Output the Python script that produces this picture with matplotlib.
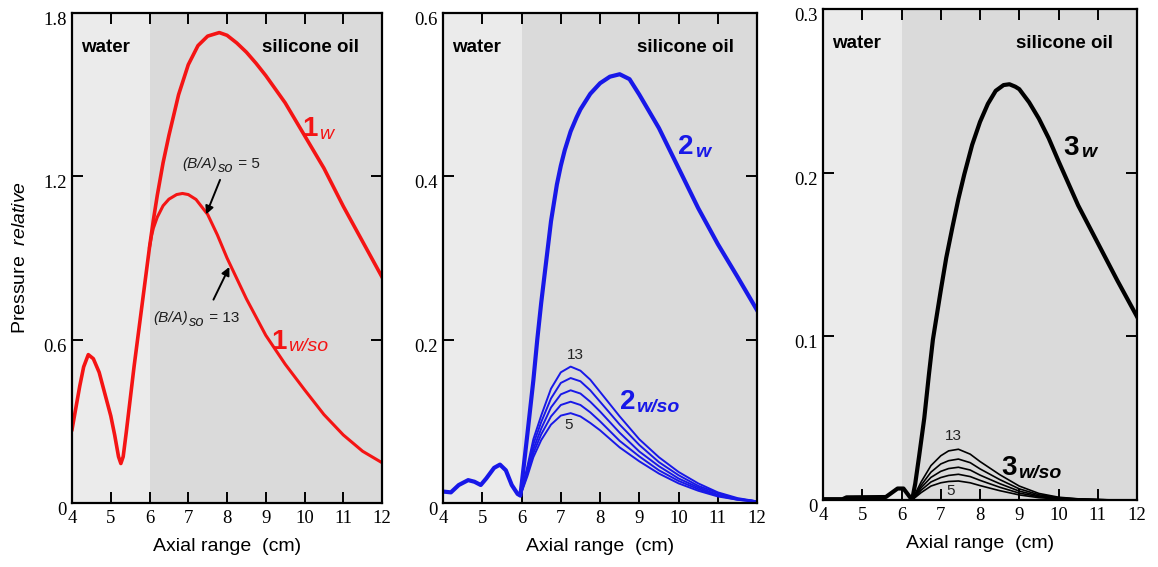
import matplotlib.pyplot as plt
from matplotlib import transforms

plt.rcParams['font.family'] = ['Liberation Sans', 'DejaVu Sans']
plt.rcParams['mathtext.fontset'] = 'custom'
plt.rcParams['mathtext.rm'] = 'Liberation Sans'
plt.rcParams['mathtext.it'] = 'Liberation Sans:italic'

# panel 1 : fundamental (red)
w1_water_x = [4.0, 4.1, 4.2, 4.3, 4.42, 4.55, 4.7, 4.85, 5.0, 5.1, 5.2, 5.26,
              5.32, 5.4, 5.5, 5.6, 5.7, 5.8, 5.9, 6.0]
w1_water_y = [0.27, 0.35, 0.43, 0.5, 0.545, 0.53, 0.48, 0.4, 0.32, 0.25, 0.17,
              0.145, 0.17, 0.26, 0.38, 0.5, 0.61, 0.72, 0.83, 0.94]
w1_oil_x = [6.1, 6.2, 6.35, 6.5, 6.75, 7.0, 7.25, 7.5, 7.8, 8.0, 8.25, 8.5,
            8.75, 9.0, 9.5, 10.0, 10.5, 11.0, 11.5, 12.0]
w1_oil_y = [1.04, 1.13, 1.25, 1.35, 1.5, 1.61, 1.68, 1.715, 1.728, 1.718, 1.69,
            1.656, 1.615, 1.57, 1.47, 1.35, 1.23, 1.09, 0.96, 0.83]
wso1_x = [6.0, 6.05, 6.1, 6.2, 6.35, 6.5, 6.7, 6.85, 7.0, 7.2, 7.5, 7.75, 8.0,
          8.5, 9.0, 9.5, 10.0, 10.5, 11.0, 11.5, 12.0]
wso1_y = [0.94, 0.98, 1.01, 1.05, 1.092, 1.116, 1.133, 1.137, 1.133, 1.115,
          1.06, 0.985, 0.9, 0.75, 0.616, 0.51, 0.416, 0.325, 0.25, 0.19, 0.148]

# panel 2 : second harmonic (blue)
w2_x = [4.0, 4.2, 4.4, 4.64, 4.8, 4.96, 5.1, 5.3, 5.45, 5.6, 5.75, 5.9, 5.97,
        6.15, 6.3, 6.4, 6.5, 6.75, 6.9, 7.0, 7.1, 7.25, 7.4, 7.5, 7.75, 8.0,
        8.25, 8.5, 8.75, 9.0, 9.5, 10.0, 10.5, 11.0, 11.5, 12.0]
w2_y = [0.014, 0.013, 0.022, 0.028, 0.026, 0.022, 0.03, 0.043, 0.047, 0.04,
        0.022, 0.011, 0.009, 0.085, 0.15, 0.2, 0.245, 0.345, 0.39, 0.413,
        0.432, 0.455, 0.472, 0.482, 0.501, 0.514, 0.522, 0.525, 0.519, 0.5,
        0.459, 0.41, 0.361, 0.317, 0.277, 0.236]
wso2_x = [5.97, 6.15, 6.3, 6.5, 6.75, 7.0, 7.25, 7.5, 7.75, 8.0, 8.5, 9.0, 9.5,
          10.0, 10.5, 11.0, 11.5, 12.0]
wso2_y = {
    13: [0.009, 0.045, 0.078, 0.107, 0.140, 0.160, 0.167, 0.162, 0.151, 0.136,
         0.106, 0.078, 0.056, 0.038, 0.024, 0.013, 0.006, 0.002],
    11: [0.009, 0.042, 0.072, 0.099, 0.128, 0.147, 0.153, 0.149, 0.138, 0.124,
         0.096, 0.071, 0.050, 0.034, 0.021, 0.012, 0.005, 0.002],
    9: [0.009, 0.039, 0.066, 0.091, 0.117, 0.133, 0.138, 0.134, 0.124, 0.112,
        0.086, 0.063, 0.045, 0.030, 0.019, 0.010, 0.005, 0.002],
    7: [0.009, 0.036, 0.061, 0.084, 0.106, 0.120, 0.124, 0.120, 0.111, 0.100,
        0.076, 0.057, 0.040, 0.027, 0.017, 0.009, 0.004, 0.002],
    5: [0.009, 0.033, 0.056, 0.077, 0.096, 0.107, 0.110, 0.106, 0.098, 0.089,
        0.068, 0.051, 0.036, 0.024, 0.015, 0.008, 0.004, 0.001],
}

# panel 3 : third harmonic (black)
w3_x = [4.0, 4.5, 4.6, 5.6, 5.9, 6.05, 6.27, 6.35, 6.45, 6.58, 6.7, 6.8, 7.0,
        7.14, 7.3, 7.45, 7.6, 7.8, 8.0, 8.2, 8.4, 8.6, 8.75, 8.9, 9.0, 9.25,
        9.5, 9.75, 10.0, 10.5, 11.0, 11.5, 12.0]
w3_y = [0.0005, 0.0005, 0.0016, 0.0018, 0.007, 0.007, 0.0, 0.01, 0.027, 0.05,
        0.077, 0.098, 0.128, 0.148, 0.167, 0.184, 0.199, 0.217, 0.231, 0.242,
        0.25, 0.2535, 0.254, 0.2525, 0.251, 0.243, 0.233, 0.221, 0.207, 0.18,
        0.157, 0.134, 0.112]
wso3_x = [6.27, 6.5, 6.75, 7.0, 7.2, 7.45, 7.75, 8.0, 8.5, 9.0, 9.5, 10.0,
          10.5, 11.0, 11.4]
wso3_y = {
    13: [0, 0.011, 0.021, 0.027, 0.030, 0.031, 0.028, 0.0235, 0.0155, 0.0085,
         0.004, 0.0017, 0.0007, 0.0003, 0],
    11: [0, 0.009, 0.017, 0.022, 0.024, 0.025, 0.0228, 0.019, 0.0125, 0.0068,
         0.0032, 0.0014, 0.0006, 0.0002, 0],
    9: [0, 0.0075, 0.0138, 0.0175, 0.0192, 0.020, 0.0183, 0.0152, 0.010,
        0.0054, 0.0025, 0.0011, 0.0005, 0.0002, 0],
    7: [0, 0.006, 0.011, 0.0137, 0.015, 0.0157, 0.0143, 0.012, 0.0078, 0.0042,
        0.002, 0.0009, 0.0004, 0.0001, 0],
    5: [0, 0.0045, 0.0085, 0.0105, 0.0113, 0.0116, 0.0105, 0.0088, 0.0057,
        0.0031, 0.0014, 0.0006, 0.0003, 0.0001, 0],
}

x_ticks = [4, 5, 6, 7, 8, 9, 10, 11, 12]
y_ticks1, y_labels1 = [0, 0.6, 1.2, 1.8], ['0', '0.6', '1.2', '1.8']
y_ticks2, y_labels2 = [0, 0.2, 0.4, 0.6], ['0', '0.2', '0.4', '0.6']
y_ticks3, y_labels3 = [0, 0.1, 0.2, 0.3], ['0', '0.1', '0.2', '0.3']

RED = '#f41414'
BLUE = '#1818e8'
WATER = '#ebebeb'
OIL = '#dadada'

fig = plt.figure(figsize=(11.58, 5.67), dpi=100)
ax1 = fig.add_axes([0.0622, 0.1129, 0.2677, 0.8642])
ax2 = fig.add_axes([0.3826, 0.1129, 0.2712, 0.8642])
ax3 = fig.add_axes([0.7107, 0.1182, 0.2712, 0.866])


def setup(ax, yticks, ylabels):
    ax.axvspan(4, 6, color=WATER, lw=0, zorder=0)
    ax.axvspan(6, 12, color=OIL, lw=0, zorder=0)
    ax.set_xlim(4, 12)
    ax.set_ylim(yticks[0], yticks[-1])
    ax.set_xticks(x_ticks)
    ax.set_yticks(yticks)
    ax.set_yticklabels(ylabels)
    ax.tick_params(direction='in', top=True, right=True, length=8, width=1.4,
                   labelsize=13.5, labelfontfamily='Liberation Serif')
    ax.tick_params(axis='x', pad=5)
    ax.tick_params(axis='y', pad=4)
    # serif tick labels sit a little low in the original
    off = transforms.ScaledTranslation(0, -4 / 72, fig.dpi_scale_trans)
    for lab in ax.get_yticklabels():
        lab.set_transform(lab.get_transform() + off)
    for s in ax.spines.values():
        s.set_linewidth(1.6)
    ax.set_xlabel('Axial range  (cm)', fontsize=14, labelpad=8)
    ax.text(0.03, 0.93, 'water', transform=ax.transAxes, fontsize=13.5,
            fontweight='bold', ha='left', va='center')
    ax.text(0.925, 0.93, 'silicone oil', transform=ax.transAxes, fontsize=13.5,
            fontweight='bold', ha='right', va='center')


def curve_label(ax, x, y, num, sub, color, weight='bold'):
    ax.text(x, y, num, color=color, fontsize=20, fontweight='bold',
            ha='right', va='baseline')
    ax.annotate(sub, (x, y), xytext=(1, -2), textcoords='offset points',
                color=color, fontsize=14, fontstyle='italic', fontweight=weight,
                ha='left', va='baseline')


def ba_label(ax, x, y, value):
    # "(B/A)so = n" with the "so" slightly lowered, as in the original
    c = '#1e1e1e'
    t1 = ax.text(x, y, '(B/A)', fontsize=11, fontstyle='italic', color=c,
                 ha='left', va='baseline')
    t2 = ax.annotate('so', xy=(1, y), xycoords=(t1, 'data'), xytext=(1, -3),
                     textcoords='offset points', fontsize=10.5,
                     fontstyle='italic', color=c, ha='left', va='baseline')
    ax.annotate(' = %d' % value, xy=(1, y), xycoords=(t2, 'data'),
                fontsize=11, color=c, ha='left', va='baseline')


setup(ax1, y_ticks1, y_labels1)
setup(ax2, y_ticks2, y_labels2)
setup(ax3, y_ticks3, y_labels3)

ax1.set_ylabel('Pressure  $\\mathit{relative}$', fontsize=14, labelpad=10)

# panel 1
ax1.plot(w1_water_x + w1_oil_x, w1_water_y + w1_oil_y, color=RED, lw=2.6)
ax1.plot(wso1_x, wso1_y, color=RED, lw=2.2)
curve_label(ax1, 10.35, 1.347, '1', 'w', RED, 'normal')
curve_label(ax1, 9.55, 0.567, '1', 'w/so', RED, 'normal')
ba_label(ax1, 6.84, 1.23, 5)
ba_label(ax1, 6.09, 0.665, 13)
arrow = dict(arrowstyle='-|>', color='black', lw=1.4, mutation_scale=12,
             shrinkA=0, shrinkB=0)
ax1.annotate('', xy=(7.46, 1.06), xytext=(7.82, 1.187), arrowprops=arrow)
ax1.annotate('', xy=(8.06, 0.867), xytext=(7.65, 0.747), arrowprops=arrow)

# panel 2
ax2.plot(w2_x, w2_y, color=BLUE, lw=3.0)
for ba in wso2_y:
    ax2.plot(wso2_x, wso2_y[ba], color=BLUE, lw=1.4)
curve_label(ax2, 10.39, 0.4275, '2', 'w', BLUE)
curve_label(ax2, 8.89, 0.115, '2', 'w/so', BLUE)
ax2.text(7.36, 0.181, '13', fontsize=11, color='#222222', ha='center', va='center')
ax2.text(7.2, 0.096, '5', fontsize=11, color='#222222', ha='center', va='center')

# panel 3
ax3.plot(w3_x, w3_y, color='black', lw=3.0)
for ba in wso3_y:
    ax3.plot(wso3_x, wso3_y[ba], color='black', lw=1.2)
curve_label(ax3, 10.53, 0.211, '3', 'w', 'black')
curve_label(ax3, 8.93, 0.015, '3', 'w/so', 'black')
ax3.text(7.32, 0.039, '13', fontsize=11, color='#222222', ha='center', va='center')
ax3.text(7.26, 0.0054, '5', fontsize=11, color='#222222', ha='center', va='center')

fig.savefig('out.png', dpi=100)
